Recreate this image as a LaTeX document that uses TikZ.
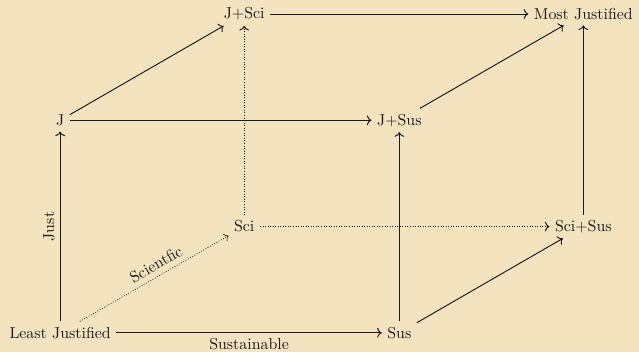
\documentclass[tikz,border=0pt]{standalone}
\definecolor{papier}{RGB}{243,228,191}
\definecolor{encre}{RGB}{25,25,25}
\usepackage{tikz}
\usetikzlibrary{arrows.meta}

\begin{document}
\begin{tikzpicture}[font=\normalsize,
	fleche/.style={->,encre,semithick},
	pointille/.style={->,encre,semithick,densely dotted}]
	%% fond
	\fill[papier] (-1.33,-0.42) rectangle (12.80,7.36);
	
	%% face avant
	\node[encre] (lj) at (0,0) {Least Justified};
	\node[encre] (sus) at (7.5,0) {Sus};
	\node[encre] (j) at (0,4.7) {J};
	\node[encre] (jsus) at (7.5,4.7) {J+Sus};
	
	%% face arriere
	\node[encre] (sci) at (4.07,2.35) {Sci};
	\node[encre] (scisus) at (11.57,2.35) {Sci+Sus};
	\node[encre] (jsci) at (4.07,7.05) {J+Sci};
	\node[encre] (mj) at (11.57,7.05) {Most Justified};
	
	%% aretes depuis Least Justified
	\draw[fleche] (lj) -- (sus) node[midway,below]{Sustainable};
	\draw[fleche] (lj) -- (j) node[midway,above,sloped]{Just};
	\draw[pointille,thin] (lj) -- (sci) node[pos=0.55,above,sloped]{Scientfic};
	
	%% aretes pointillees
	\draw[pointille] (sci) -- (scisus);
	\draw[pointille] (sci) -- (jsci);
	
	%% autres aretes
	\draw[fleche] (sus) -- (jsus);
	\draw[fleche] (sus) -- (scisus);
	\draw[fleche] (j) -- (jsus);
	\draw[fleche] (j) -- (jsci);
	\draw[fleche] (jsus) -- (mj);
	\draw[fleche] (scisus) -- (mj);
	\draw[fleche] (jsci) -- (mj);
\end{tikzpicture}
\end{document}
